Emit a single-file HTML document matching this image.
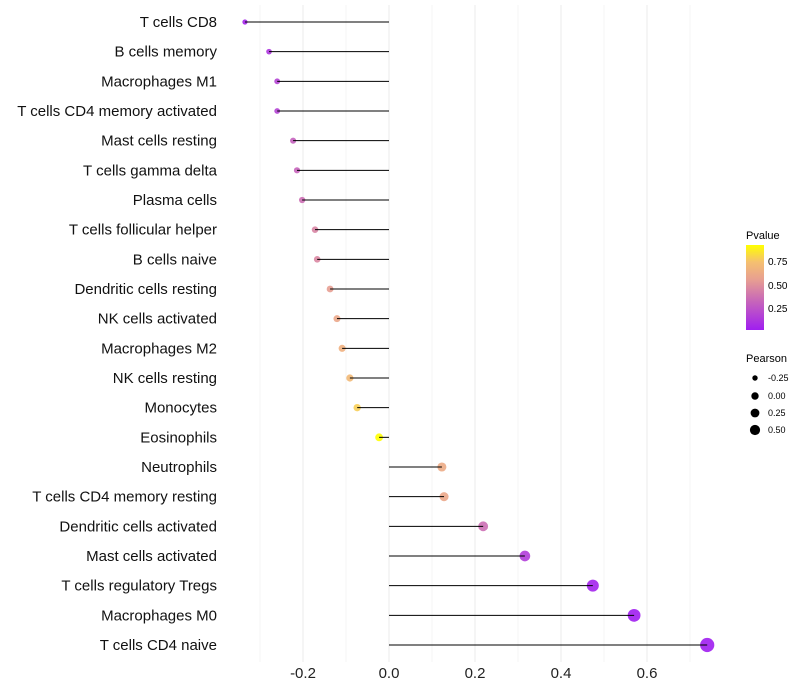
<!DOCTYPE html>
<html><head><meta charset="utf-8"><style>
body{margin:0;background:#fff;font-family:"Liberation Sans",sans-serif}
</style></head><body>
<svg id="chart" width="800" height="700" style="display:block">
<defs>
<linearGradient id="pg" x1="0" y1="1" x2="0" y2="0">
<stop offset="0" stop-color="#A01EF0"/>
<stop offset="0.35" stop-color="#C868B8"/>
<stop offset="0.6" stop-color="#E8A090"/>
<stop offset="0.8" stop-color="#F5C070"/>
<stop offset="1" stop-color="#FFFF00"/>
</linearGradient>
</defs>
<g id="grid"></g><g id="dots"></g><g id="marks"></g><g id="labels"></g>
<g font-size="10">
<text x="746" y="239" font-size="11">Pvalue</text>
<rect x="746" y="245" width="18" height="85" fill="url(#pg)"/>
<text x="768" y="265">0.75</text><text x="768" y="289">0.50</text><text x="768" y="312">0.25</text>
</g>
<g font-size="9">
<text x="746" y="362" font-size="11">Pearson</text>
<circle cx="755" cy="378" r="2.7"/><text x="768" y="381">-0.25</text>
<circle cx="755" cy="396" r="3.7"/><text x="768" y="399">0.00</text>
<circle cx="755" cy="413" r="4.4"/><text x="768" y="416">0.25</text>
<circle cx="755" cy="430" r="5.1"/><text x="768" y="433">0.50</text>
</g>
</svg>
<script>
const categories=["T cells CD8","B cells memory","Macrophages M1","T cells CD4 memory activated","Mast cells resting","T cells gamma delta","Plasma cells","T cells follicular helper","B cells naive","Dendritic cells resting","NK cells activated","Macrophages M2","NK cells resting","Monocytes","Eosinophils","Neutrophils","T cells CD4 memory resting","Dendritic cells activated","Mast cells activated","T cells regulatory  Tregs","Macrophages M0","T cells CD4 naive"];
const pearson=[-0.335,-0.279,-0.26,-0.26,-0.223,-0.214,-0.202,-0.172,-0.167,-0.137,-0.121,-0.109,-0.091,-0.074,-0.023,0.123,0.128,0.219,0.316,0.474,0.570,0.740];
const pvalue=[0.05,0.12,0.18,0.18,0.3,0.32,0.36,0.45,0.46,0.55,0.6,0.65,0.7,0.78,0.97,0.62,0.6,0.36,0.15,0.04,0.02,0.01];
const ticks=[-0.2,0,0.2,0.4,0.6];
const tickLabels=["-0.2","0.0","0.2","0.4","0.6"];
const NS="http://www.w3.org/2000/svg";
const xs=v=>389+v*430;
const ys=i=>22+i*(623/21);
function mk(t,a,p){const e=document.createElementNS(NS,t);for(const k in a)e.setAttribute(k,a[k]);p.appendChild(e);return e;}
function lerp(a,b,t){return a.map((x,i)=>Math.round(x+(b[i]-x)*t));}
const stops=[[0,[160,30,240]],[0.35,[200,104,184]],[0.6,[232,160,144]],[0.8,[245,192,112]],[1,[255,255,0]]];
function col(p){const t=Math.max(0,Math.min(1,(p-0.02)/0.9));for(let i=1;i<stops.length;i++){if(t<=stops[i][0]){const c=lerp(stops[i-1][1],stops[i][1],(t-stops[i-1][0])/(stops[i][0]-stops[i-1][0]));return `rgb(${c})`;}}return "rgb(255,255,0)";}
const g=document.getElementById('grid'),m=document.getElementById('marks'),dg=document.getElementById('dots'),l=document.getElementById('labels');
for(let k=-3;k<=7;k++){const v=k/10;const e=mk('line',{x1:xs(v),x2:xs(v),y1:5,y2:662,stroke:k%2===0?'#ebebeb':'#f4f4f4','stroke-width':1},g);

}
ticks.forEach((v,i)=>{const t=mk('text',{x:xs(v),y:678,'text-anchor':'middle','font-size':15,fill:'#222'},l);t.textContent=tickLabels[i];

});
categories.forEach((c,i)=>{const y=ys(i);
const t=mk('text',{x:217,y:y+5,'text-anchor':'end','font-size':15,fill:'#111'},l);t.textContent=c;


const r=Math.max(1.6,4+4.2*pearson[i]);
const d=mk('circle',{cx:xs(pearson[i]),cy:y,r:r,fill:col(pvalue[i]),'fill-opacity':0.9},dg);


const ln=mk('line',{x1:xs(0),x2:xs(pearson[i]),y1:y,y2:y,stroke:'#000','stroke-width':1},m);

});
</script>
</body></html>
